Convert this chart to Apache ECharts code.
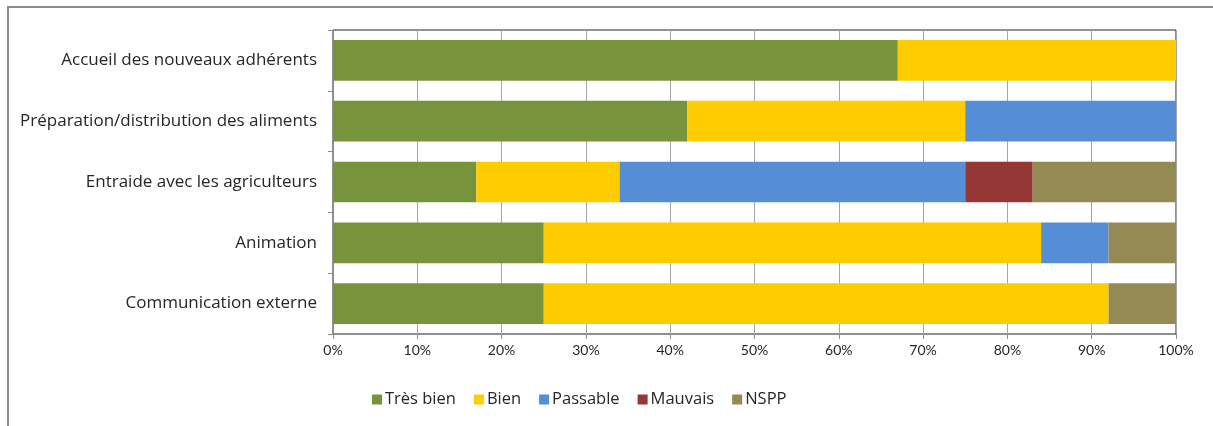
<!DOCTYPE html>
<html>
<head>
<meta charset="utf-8">
<script src="https://cdn.jsdelivr.net/npm/echarts@6/dist/echarts.min.js"></script>
<style>
html,body{margin:0;padding:0;background:#fff;}
#chart{width:1213px;height:426px;}
</style>
</head>
<body>
<div id="chart"></div>
<script>
const categories = [
  "Accueil des nouveaux adhérents",
  "Préparation/distribution des aliments",
  "Entraide avec les agriculteurs",
  "Animation",
  "Communication externe"
];
const tresBien = [67, 42, 17, 25, 25];
const bien = [33, 33, 17, 59, 67];
const passable = [0, 25, 41, 8, 0];
const mauvais = [0, 0, 8, 0, 0];
const nspp = [0, 0, 17, 8, 8];
const seriesNames = ["Très bien", "Bien", "Passable", "Mauvais", "NSPP"];
const seriesColors = ["#77933C", "#FFCC00", "#558ED5", "#953735", "#948A54"];
const seriesData = [tresBien, bien, passable, mauvais, nspp];

const FONT = "Open Sans";
const chart = echarts.init(document.getElementById("chart"), null, {renderer: "canvas"});
chart.setOption({
  animation: false,
  textStyle: {fontFamily: FONT},
  graphic: [{
    type: "rect",
    shape: {x: 8, y: 7, width: 1230, height: 440},
    style: {fill: "none", stroke: "#8c8c8c", lineWidth: 2},
    silent: true
  }],
  grid: {left: 333, right: 37, top: 30, bottom: 92, show: true, borderColor: "#222", borderWidth: 1, containLabel: false},
  legend: {
    left: 367, top: 386,
    itemWidth: 10, itemHeight: 10, itemGap: 18,
    icon: "rect",
    textStyle: {fontFamily: FONT, fontSize: 16.5, color: "#262626", padding: [0, 0, 0, -2]},
    data: seriesNames
  },
  xAxis: {
    type: "value", min: 0, max: 100, interval: 10,
    axisLine: {show: true, lineStyle: {color: "#8c8c8c"}},
    axisTick: {show: true, length: 5, lineStyle: {color: "#8c8c8c"}},
    splitLine: {show: true, lineStyle: {color: "#a6a6a6", width: 1}},
    axisLabel: {formatter: "{value}%", fontFamily: "Lato", fontSize: 14, color: "#262626", margin: 9}
  },
  yAxis: {
    type: "category", inverse: true, data: categories,
    axisLine: {show: true, lineStyle: {color: "#8c8c8c"}},
    axisTick: {show: true, length: 5, lineStyle: {color: "#8c8c8c"}},
    axisLabel: {fontFamily: FONT, fontSize: 17, color: "#262626", margin: 16}
  },
  series: seriesNames.map((n, i) => ({
    name: n, type: "bar", stack: "total",
    data: seriesData[i],
    barCategoryGap: "33%",
    itemStyle: {color: seriesColors[i]},
    emphasis: {disabled: true}
  }))
});
</script>
</body>
</html>
